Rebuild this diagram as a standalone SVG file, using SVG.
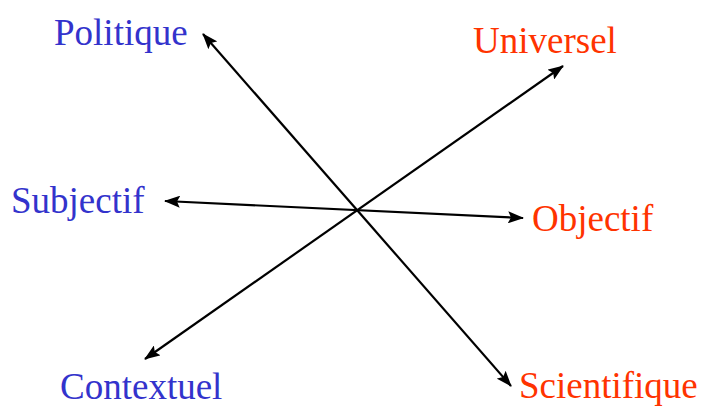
<svg xmlns="http://www.w3.org/2000/svg" width="702" height="406" viewBox="0 0 702 406">
<style>
.l{stroke:#000;stroke-width:2.2;fill:none;marker-end:url(#ah);marker-start:url(#as)}
text{font-family:"Liberation Serif","Times New Roman",serif;font-size:37px}
.b{fill:#3333CC}
.r{fill:#FF3300}
</style>
<defs>
<marker id="ah" viewBox="0 0 16 12" refX="15" refY="6" markerWidth="16" markerHeight="12" markerUnits="userSpaceOnUse" orient="auto"><path d="M0,0 L16,6 L0,12 L3,6 Z" fill="#000"/></marker>
<marker id="as" viewBox="0 0 16 12" refX="1" refY="6" markerWidth="16" markerHeight="12" markerUnits="userSpaceOnUse" orient="auto"><path d="M16,0 L0,6 L16,12 L13,6 Z" fill="#000"/></marker>
</defs>
<g id="connectors">
<line class="l" x1="203" y1="34" x2="511" y2="386"/>
<line class="l" x1="145" y1="359" x2="563" y2="66"/>
<line class="l" x1="165" y1="201" x2="523" y2="218"/>
</g>
<g id="politique"><text class="b" x="54" y="45">Politique</text></g>
<g id="universel"><text class="r" x="473" y="53">Universel</text></g>
<g id="subjectif"><text class="b" x="11" y="213">Subjectif</text></g>
<g id="objectif"><text class="r" x="532" y="231">Objectif</text></g>
<g id="contextuel"><text class="b" x="60" y="399">Contextuel</text></g>
<g id="scientifique"><text class="r" x="519" y="398">Scientifique</text></g>
</svg>
